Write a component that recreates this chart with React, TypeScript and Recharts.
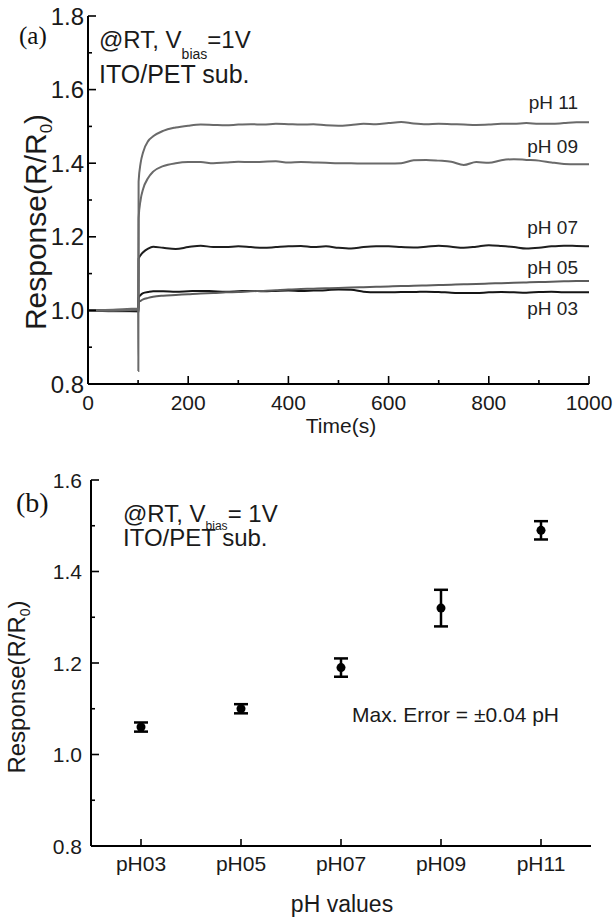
import React from 'react';
import { LineChart, Line, XAxis, YAxis, ComposedChart, ErrorBar, LabelList } from 'recharts';

// ---------- Panel (a): response vs time ----------
const timeS = [0, 50, 100, 100.5, 101, 105, 110, 120, 130, 150, 175, 200, 225, 250, 275, 300, 325, 350, 375, 400, 425, 450, 475, 500, 525, 550, 575, 600, 625, 650, 675, 700, 725, 750, 775, 800, 825, 850, 875, 900, 925, 950, 975, 1000];
const ph11 = [1.0, 1.002, 1.005, 0.835, 1.35, 1.40, 1.43, 1.46, 1.473, 1.488, 1.497, 1.502, 1.505, 1.504, 1.503, 1.505, 1.506, 1.505, 1.507, 1.506, 1.505, 1.506, 1.503, 1.502, 1.504, 1.507, 1.506, 1.509, 1.512, 1.508, 1.506, 1.507, 1.506, 1.505, 1.504, 1.505, 1.507, 1.507, 1.509, 1.507, 1.507, 1.509, 1.511, 1.511];
const ph09 = [1.0, 1.0, 1.002, 1.002, 1.25, 1.30, 1.33, 1.36, 1.377, 1.392, 1.40, 1.403, 1.403, 1.400, 1.402, 1.404, 1.403, 1.404, 1.405, 1.402, 1.403, 1.402, 1.401, 1.400, 1.400, 1.399, 1.399, 1.399, 1.400, 1.408, 1.409, 1.407, 1.404, 1.395, 1.403, 1.401, 1.408, 1.411, 1.409, 1.407, 1.402, 1.398, 1.397, 1.397];
const ph07 = [1.0, 1.0, 0.998, 0.998, 1.14, 1.15, 1.158, 1.168, 1.173, 1.170, 1.167, 1.172, 1.176, 1.172, 1.172, 1.174, 1.172, 1.170, 1.172, 1.174, 1.175, 1.172, 1.174, 1.170, 1.168, 1.172, 1.174, 1.174, 1.172, 1.171, 1.173, 1.176, 1.173, 1.170, 1.173, 1.177, 1.175, 1.172, 1.168, 1.170, 1.174, 1.176, 1.175, 1.174];
const ph05 = [1.0, 0.998, 0.998, 0.998, 1.022, 1.026, 1.030, 1.034, 1.037, 1.040, 1.042, 1.044, 1.046, 1.047, 1.049, 1.050, 1.052, 1.053, 1.055, 1.057, 1.058, 1.059, 1.060, 1.061, 1.062, 1.063, 1.064, 1.065, 1.066, 1.067, 1.068, 1.069, 1.070, 1.071, 1.072, 1.073, 1.074, 1.075, 1.076, 1.077, 1.078, 1.079, 1.080, 1.080];
const ph03 = [1.0, 1.0, 1.0, 1.0, 1.035, 1.042, 1.047, 1.050, 1.052, 1.052, 1.051, 1.052, 1.053, 1.052, 1.051, 1.052, 1.053, 1.052, 1.053, 1.054, 1.053, 1.054, 1.055, 1.057, 1.056, 1.051, 1.049, 1.049, 1.050, 1.050, 1.051, 1.050, 1.048, 1.047, 1.047, 1.049, 1.050, 1.049, 1.048, 1.050, 1.051, 1.049, 1.049, 1.049];

const topXTicks = [0, 100, 200, 300, 400, 500, 600, 700, 800, 900, 1000];
const topXLabeled = [0, 200, 400, 600, 800, 1000];
const topYTicks = [0.8, 0.9, 1.0, 1.1, 1.2, 1.3, 1.4, 1.5, 1.6, 1.7, 1.8];
const topYLabeled = [0.8, 1.0, 1.2, 1.4, 1.6, 1.8];

// ---------- Panel (b): response vs pH ----------
const phCategories = ['pH03', 'pH05', 'pH07', 'pH09', 'pH11'];
const responseMean = [1.06, 1.10, 1.19, 1.32, 1.49];
const responseErr = [0.01, 0.01, 0.02, 0.04, 0.02];
const botYTicks = [0.8, 0.9, 1.0, 1.1, 1.2, 1.3, 1.4, 1.5, 1.6];
const botYLabeled = [0.8, 1.0, 1.2, 1.4, 1.6];

const timeData = timeS.map((t, i) => ({ t, ph11: ph11[i], ph09: ph09[i], ph07: ph07[i], ph05: ph05[i], ph03: ph03[i] }));
const phData = phCategories.map((ph, i) => ({ ph, mean: responseMean[i], err: responseErr[i] }));

const FONT = '"Liberation Sans", Arial, Helvetica, sans-serif';
const SERIF = '"Liberation Serif", "Times New Roman", serif';
const TICK_MARGIN = 10;

const isIn = (arr: any[], v: any) => arr.some((a) => (typeof a === 'number' ? Math.abs(a - v) < 1e-6 : a === v));

function makeYTick(labeled: number[], majorLen: number, minorLen: number, gap: number, fontSize: number) {
  return (props: any) => {
    const { x, y, payload } = props;
    const v = payload.value;
    const axisX = x + TICK_MARGIN;
    const major = isIn(labeled, v);
    return (
      <g>
        <line x1={axisX} x2={axisX + (major ? majorLen : minorLen)} y1={y} y2={y} stroke="#000" strokeWidth={1.6} />
        {major && (
          <text x={axisX - gap} y={y + fontSize * 0.36} textAnchor="end" fontSize={fontSize} fontFamily={FONT} fill="#1a1a1a">
            {Number(v).toFixed(1)}
          </text>
        )}
      </g>
    );
  };
}

function makeXTick(labeled: any[], majorLen: number, minorLen: number, baseline: number, fontSize: number) {
  return (props: any) => {
    const { x, y, payload } = props;
    const v = payload.value;
    const axisY = y - TICK_MARGIN;
    const major = isIn(labeled, v);
    return (
      <g>
        <line x1={x} x2={x} y1={axisY} y2={axisY - (major ? majorLen : minorLen)} stroke="#000" strokeWidth={1.6} />
        {major && (
          <text x={x} y={axisY + baseline} textAnchor="middle" fontSize={fontSize} fontFamily={FONT} fill="#1a1a1a">
            {String(v)}
          </text>
        )}
      </g>
    );
  };
}

const lastIndex = timeS.length - 1;
const endLabel = (text: string, dy: number) => (props: any) => {
  const { index } = props;
  if (index !== lastIndex) return null;
  const x = props.x ?? props.viewBox?.x;
  const y = props.y ?? props.viewBox?.y;
  return (
    <text x={x - 11} y={y + dy} textAnchor="end" fontSize={19} fontFamily={FONT} fill="#222">
      {text}
    </text>
  );
};

const axisLineStyle = { stroke: '#000', strokeWidth: 2 };

export default function App() {
  return (
    <div style={{ position: 'absolute', left: 0, top: 0, width: 614, height: 920, background: '#fff' }}>
      <div style={{ position: 'absolute', left: 0, top: 0 }}>
        <LineChart width={614} height={440} data={timeData} margin={{ top: 16, right: 25, left: 0, bottom: 0 }}>
          <XAxis
            dataKey="t"
            type="number"
            domain={[0, 1000]}
            ticks={topXTicks}
            interval={0}
            height={56}
            tickSize={0}
            tickMargin={TICK_MARGIN}
            tickLine={false}
            axisLine={axisLineStyle}
            tick={makeXTick(topXLabeled, 8, 4, 26, 21)}
          />
          <XAxis xAxisId="frameTop" orientation="top" type="number" domain={[0, 1]} height={0} tick={false} tickLine={false} axisLine={axisLineStyle} />
          <YAxis
            type="number"
            domain={[0.8, 1.8]}
            ticks={topYTicks}
            interval={0}
            width={88}
            tickSize={0}
            tickMargin={TICK_MARGIN}
            tickLine={false}
            axisLine={axisLineStyle}
            tick={makeYTick(topYLabeled, 8, 4, 4, 24)}
          />
          <YAxis yAxisId="frameRight" orientation="right" type="number" domain={[0, 1]} width={0} tick={false} tickLine={false} axisLine={axisLineStyle} />
          <Line type="monotone" dataKey="ph03" stroke="#151515" strokeWidth={2} dot={false} isAnimationActive={false}>
            <LabelList dataKey="ph03" content={endLabel('pH 03', 23)} />
          </Line>
          <Line type="monotone" dataKey="ph05" stroke="#5c5c5c" strokeWidth={2} dot={false} isAnimationActive={false}>
            <LabelList dataKey="ph05" content={endLabel('pH 05', -7)} />
          </Line>
          <Line type="monotone" dataKey="ph07" stroke="#1e1e1e" strokeWidth={2} dot={false} isAnimationActive={false}>
            <LabelList dataKey="ph07" content={endLabel('pH 07', -12)} />
          </Line>
          <Line type="monotone" dataKey="ph09" stroke="#6a6a6a" strokeWidth={2} dot={false} isAnimationActive={false}>
            <LabelList dataKey="ph09" content={endLabel('pH 09', -11)} />
          </Line>
          <Line type="monotone" dataKey="ph11" stroke="#6a6a6a" strokeWidth={2} dot={false} isAnimationActive={false}>
            <LabelList dataKey="ph11" content={endLabel('pH 11', -13)} />
          </Line>
        </LineChart>
      </div>
      <div style={{ position: 'absolute', left: 0, top: 440 }}>
        <ComposedChart width={614} height={480} data={phData} margin={{ top: 40, right: 23, left: 0, bottom: 0 }}>
          <XAxis
            dataKey="ph"
            type="category"
            scale="point"
            padding={{ left: 50, right: 50 }}
            interval={0}
            height={74}
            tickSize={0}
            tickMargin={TICK_MARGIN}
            tickLine={false}
            axisLine={axisLineStyle}
            tick={makeXTick(phCategories, 7, 7, 25, 21)}
          />
          <XAxis xAxisId="frameTop" orientation="top" type="number" domain={[0, 1]} height={0} tick={false} tickLine={false} axisLine={axisLineStyle} />
          <YAxis
            type="number"
            domain={[0.8, 1.6]}
            ticks={botYTicks}
            interval={0}
            width={91}
            tickSize={0}
            tickMargin={TICK_MARGIN}
            tickLine={false}
            axisLine={axisLineStyle}
            tick={makeYTick(botYLabeled, 8, 4, 9, 21)}
          />
          <YAxis yAxisId="frameRight" orientation="right" type="number" domain={[0, 1]} width={0} tick={false} tickLine={false} axisLine={axisLineStyle} />
          <Line dataKey="mean" stroke="none" strokeWidth={0} dot={{ r: 4.5, fill: '#000', stroke: '#000', strokeWidth: 0 }} isAnimationActive={false}>
            <ErrorBar dataKey="err" width={7} strokeWidth={2.5} stroke="#000" direction="y" />
          </Line>
        </ComposedChart>
      </div>
      <svg width={614} height={920} style={{ position: 'absolute', left: 0, top: 0, pointerEvents: 'none' }}>
        {/* Panel (a) texts */}
        <text x={19} y={44} fontSize={25} fontFamily={SERIF} fill="#111">(a)</text>
        <text x={99} y={48} fontSize={24} fontFamily={FONT} fill="#1a1a1a">
          @RT, V<tspan fontSize={14} dy={11}>bias</tspan><tspan fontSize={24} dy={-11}>=1V</tspan>
        </text>
        <text x={99} y={83} fontSize={25} fontFamily={FONT} fill="#1a1a1a">ITO/PET sub.</text>
        <text transform="translate(46,222) rotate(-90)" textAnchor="middle" fontSize={30} fontFamily={FONT} fill="#1a1a1a">
          Response(R/R<tspan fontSize={17} dy={6}>0</tspan><tspan dy={-6}>)</tspan>
        </text>
        <text x={341} y={433} textAnchor="middle" fontSize={21} fontFamily={FONT} fill="#1a1a1a">Time(s)</text>

        {/* Panel (b) texts */}
        <text x={16} y={512} fontSize={28} fontFamily={SERIF} fill="#111">(b)</text>
        <text x={123} y={522} fontSize={24} fontFamily={FONT} fill="#1a1a1a">
          @RT, V<tspan fontSize={12} dy={8}>bias</tspan><tspan fontSize={24} dy={-8}>= 1V</tspan>
        </text>
        <text x={123} y={546} fontSize={24} fontFamily={FONT} fill="#1a1a1a">ITO/PET sub.</text>
        <text transform="translate(25,687) rotate(-90)" textAnchor="middle" fontSize={24} fontFamily={FONT} fill="#1a1a1a">
          Response(R/R<tspan fontSize={14} dy={5}>0</tspan><tspan dy={-5}>)</tspan>
        </text>
        <text x={342} y={912} textAnchor="middle" fontSize={23} fontFamily={FONT} fill="#1a1a1a">pH values</text>
        <text x={352} y={722} fontSize={21} fontFamily={FONT} fill="#1a1a1a">Max. Error = ±0.04 pH</text>
      </svg>
    </div>
  );
}
